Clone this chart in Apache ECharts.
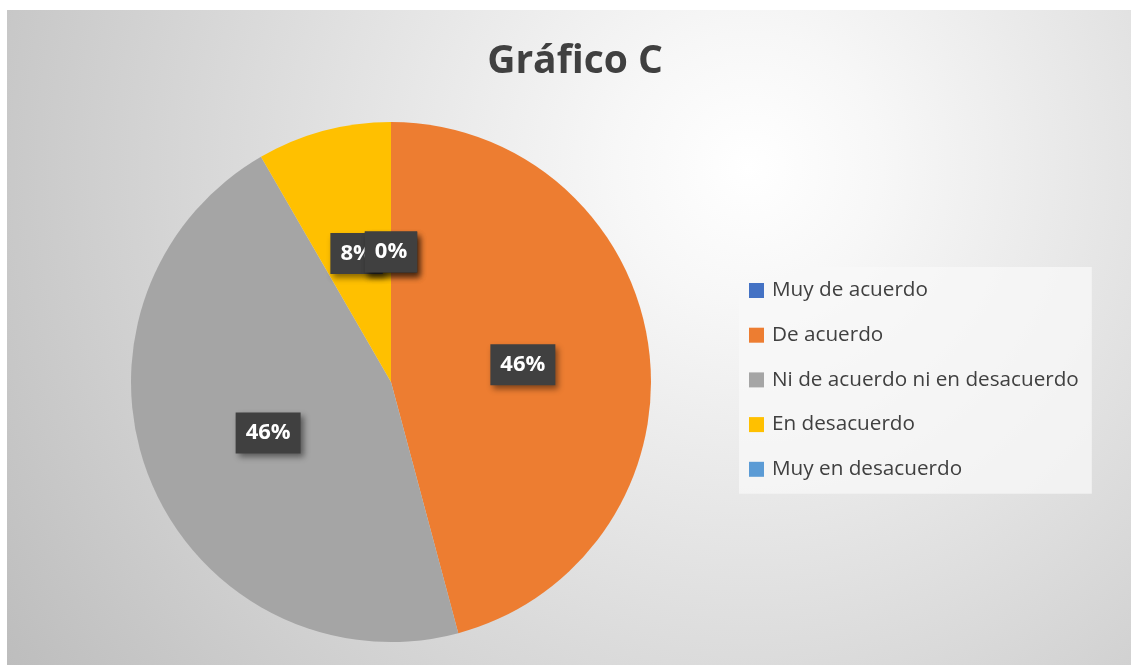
<!DOCTYPE html>
<html>
<head>
<meta charset="utf-8">
<script src="https://cdn.jsdelivr.net/npm/echarts@6/dist/echarts.min.js"></script>
<style>
  html, body { margin: 0; padding: 0; background: #fff; }
  #bg {
    position: absolute; left: 7px; top: 10px; width: 1124px; height: 655px;
    background: radial-gradient(circle farthest-corner at 66% 24%, #ffffff 0%, #f7f7f7 15%, #bdbdbd 100%);
  }
  #chart { position: absolute; left: 0; top: 0; width: 1131px; height: 665px; }
</style>
</head>
<body>
<div id="bg"></div>
<div id="chart"></div>
<script>
const categories = ['Muy de acuerdo', 'De acuerdo', 'Ni de acuerdo ni en desacuerdo', 'En desacuerdo', 'Muy en desacuerdo'];
const values = [0, 11, 11, 2, 0];
const colors = ['#4472C4', '#ED7D31', '#A5A5A5', '#FFC000', '#5B9BD5'];

const labelStyle = {
    fontFamily: 'Open Sans',
    fontWeight: 'bold',
    fontSize: 22,
    color: '#fff',
    backgroundColor: '#404040',
    padding: [10, 10, 9, 10],
    shadowColor: 'rgba(0,0,0,0.45)',
    shadowBlur: 6,
    shadowOffsetX: 3,
    shadowOffsetY: 4
};

const chart = echarts.init(document.getElementById('chart'));

const option = {
    backgroundColor: 'transparent',
    color: colors,
    title: {
        text: 'Gráfico C',
        left: 570,
        top: 37,
        textAlign: 'center',
        textStyle: {
            fontFamily: 'Open Sans',
            fontWeight: 'bold',
            fontSize: 39,
            color: '#404040'
        }
    },
    legend: {
        orient: 'vertical',
        left: 739,
        top: 267,
        padding: [13, 13, 14, 10],
        backgroundColor: 'rgba(248,248,248,0.75)',
        itemWidth: 15,
        itemHeight: 15,
        itemGap: 23.7,
        icon: 'rect',
        selectedMode: false,
        textStyle: {
            fontFamily: 'Open Sans',
            fontSize: 20.7,
            lineHeight: 20,
            color: '#404040',
            padding: [0, 0, 0, 3]
        },
        data: categories
    },
    series: [
        {
            type: 'pie',
            center: [391, 382],
            radius: [0, 260],
            startAngle: 90,
            clockwise: true,
            avoidLabelOverlap: false,
            silent: true,
            label: Object.assign({
                show: true,
                position: 'inside',
                formatter: function (p) { return Math.round(p.percent) + '%'; }
            }, labelStyle),
            labelLine: { show: false },
            data: categories.map(function (name, i) {
                return { name: name, value: values[i] };
            })
        }
    ]
};

chart.setOption(option);

// ECharts skips labels of zero-angle slices; add them from the pie's own layout
const pieData = chart.getModel().getSeriesByIndex(0).getData();
const zeroLabels = [];
pieData.each(function (idx) {
    if (pieData.get('value', idx) !== 0) return;
    const lay = pieData.getItemLayout(idx);
    const a = (lay.startAngle + lay.endAngle) / 2;
    const rr = ((lay.r0 || 0) + lay.r) / 2;
    zeroLabels.push({
        type: 'text',
        x: lay.cx + rr * Math.cos(a),
        y: lay.cy + rr * Math.sin(a),
        z: 100,
        silent: true,
        style: {
            text: '0%',
            align: 'center',
            verticalAlign: 'middle',
            font: 'bold 22px "Open Sans"',
            fill: labelStyle.color,
            backgroundColor: labelStyle.backgroundColor,
            padding: labelStyle.padding,
            shadowColor: labelStyle.shadowColor,
            shadowBlur: labelStyle.shadowBlur,
            shadowOffsetX: labelStyle.shadowOffsetX,
            shadowOffsetY: labelStyle.shadowOffsetY
        }
    });
});
chart.setOption({ graphic: zeroLabels });
</script>
</body>
</html>
